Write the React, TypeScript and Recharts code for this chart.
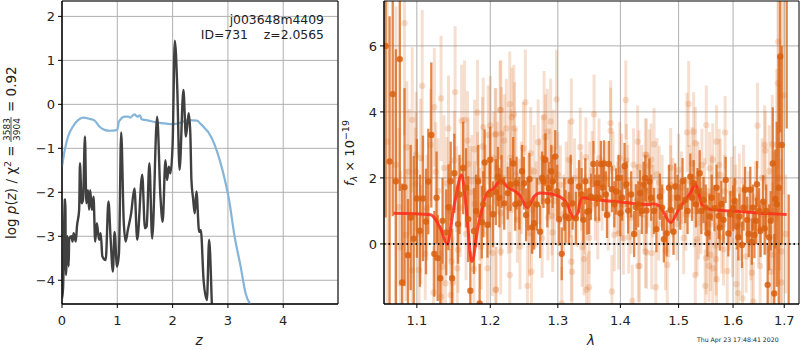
import React from "react";
import { ComposedChart, Line, Scatter, ErrorBar, XAxis, YAxis, ZAxis, CartesianGrid, ReferenceLine, ReferenceArea } from "recharts";

const FONT = "'DejaVu Sans', sans-serif";
const FS = 13;

// left panel
const zTicks = [0, 1, 2, 3, 4];
const logpTicks = [-4, -3, -2, -1, 0, 1, 2];
const priorZ = [0, 0.05, 0.11, 0.2, 0.29, 0.38, 0.5, 0.59, 0.68, 0.77, 0.86, 1.0, 1.03, 1.14, 1.2, 1.23, 1.31, 1.36, 1.41, 1.44, 1.53, 1.71, 1.89, 2.0, 2.14, 2.29, 2.44, 2.51, 2.71, 2.9, 3.02, 3.12, 3.23, 3.32, 3.41];
const priorLog = [-1.42, -1.04, -0.73, -0.5, -0.36, -0.3, -0.33, -0.37, -0.51, -0.58, -0.6, -0.58, -0.39, -0.28, -0.28, -0.3, -0.23, -0.28, -0.25, -0.34, -0.36, -0.41, -0.44, -0.45, -0.42, -0.36, -0.37, -0.45, -0.77, -1.49, -2.17, -3.0, -3.69, -4.3, -4.56];
const pzZ = [0, 0.02, 0.05, 0.06, 0.07, 0.1, 0.12, 0.13, 0.17, 0.19, 0.21, 0.25, 0.27, 0.31, 0.325, 0.355, 0.38, 0.415, 0.44, 0.47, 0.49, 0.51, 0.54, 0.57, 0.6, 0.63, 0.67, 0.7, 0.73, 0.79, 0.84, 0.88, 0.92, 0.95, 0.995, 1.03, 1.07, 1.115, 1.15, 1.19, 1.25, 1.31, 1.36, 1.45, 1.5, 1.53, 1.58, 1.63, 1.72, 1.78, 1.82, 1.87, 1.9, 1.93, 1.96, 2.0, 2.04, 2.085, 2.125, 2.195, 2.24, 2.29, 2.32, 2.34, 2.37, 2.4, 2.43, 2.48, 2.51, 2.56, 2.62, 2.66, 2.71, 2.75];
const pzLog = [-4.41, -4.15, -2.17, -2.16, -3.88, -3.0, -3.68, -3.06, -3.0, -3.12, -2.93, -3.12, -2.78, -2.4, -1.34, -2.25, -2.17, -0.73, -2.25, -1.95, -2.4, -1.95, -2.4, -2.1, -3.12, -2.7, -3.08, -2.93, -3.46, -3.54, -2.21, -3.08, -3.8, -2.9, -3.69, -3.39, -0.64, -2.63, -3.12, -2.86, -2.48, -1.91, -3.08, -1.6, -2.82, -2.78, -1.34, -3.05, -0.28, -2.1, -2.67, -1.27, -1.72, -1.42, -1.57, -0.9, 1.45, 0.33, -1.49, 0.33, -0.73, -0.2, -0.66, -1.72, -2.14, -2.48, -1.98, -2.9, -2.86, -4.0, -4.45, -3.08, -4.56, -6];

// right panel
const lamTicks = [1.1, 1.2, 1.3, 1.4, 1.5, 1.6, 1.7];
const fluxTicks = [0, 2, 4, 6];
const modelLam = [1.07, 1.118, 1.125, 1.132, 1.14, 1.15, 1.16, 1.166, 1.174, 1.183, 1.196, 1.204, 1.215, 1.225, 1.242, 1.254, 1.264, 1.273, 1.288, 1.304, 1.314, 1.325, 1.331, 1.337, 1.352, 1.4, 1.449, 1.455, 1.467, 1.486, 1.5, 1.521, 1.53, 1.536, 1.542, 1.555, 1.576, 1.613, 1.652, 1.705];
const modelFlux = [0.93, 0.885, 0.73, 0.43, 0, 1.2, 2.09, 1.14, -0.53, 0.55, 1.56, 1.66, 1.92, 1.72, 1.49, 1.1, 1.44, 1.54, 1.52, 1.42, 1.23, 0.78, 0.93, 1.41, 1.36, 1.27, 1.19, 1.22, 1.14, 0.65, 1.04, 1.54, 1.81, 1.54, 1.19, 1.06, 1.02, 0.98, 0.93, 0.89];

const paleLam = [1.062, 1.073, 1.084, 1.107, 1.151, 1.132, 1.123, 1.094, 1.164, 1.142, 1.16, 1.087, 1.099, 1.182, 1.19, 1.2, 1.178, 1.168, 1.197, 1.207, 1.214, 1.189, 1.09, 1.099, 1.125, 1.15, 1.169, 1.205, 1.182, 1.14, 1.077, 1.098, 1.172, 1.153, 1.178, 1.086, 1.079, 1.105, 1.111, 1.155, 1.187, 1.203, 1.094, 1.103, 1.134, 1.154, 1.177, 1.196, 1.138, 1.148, 1.122, 1.145, 1.132, 1.208, 1.146,
  1.228, 1.251, 1.215, 1.234, 1.231, 1.298, 1.279, 1.289, 1.321, 1.357, 1.409, 1.384, 1.384, 1.223, 1.235, 1.208, 1.216, 1.284, 1.281, 1.22, 1.27, 1.293, 1.335, 1.429, 1.259, 1.442, 1.317, 1.344, 1.41, 1.354, 1.431, 1.304, 1.402, 1.242, 1.23, 1.215, 1.239, 1.291, 1.261, 1.363, 1.257, 1.292, 1.276, 1.349, 1.39, 1.397, 1.405, 1.414, 1.442, 1.243, 1.215, 1.338, 1.321, 1.341, 1.26, 1.228, 1.254, 1.208, 1.345, 1.349, 1.386, 1.42, 1.43, 1.306, 1.322,
  1.518, 1.515, 1.527, 1.55, 1.585, 1.647, 1.688, 1.688, 1.676, 1.661, 1.662, 1.569, 1.53, 1.444, 1.452, 1.457, 1.449, 1.462, 1.486, 1.5, 1.524, 1.542, 1.562, 1.574, 1.556, 1.576, 1.466, 1.486, 1.603, 1.597, 1.612, 1.444, 1.453, 1.509, 1.536, 1.533, 1.567, 1.582, 1.558, 1.55, 1.568, 1.555, 1.562, 1.589, 1.432, 1.48, 1.652, 1.673, 1.694, 1.606, 1.61, 1.618, 1.639, 1.636, 1.53, 1.548, 1.569, 1.46, 1.694, 1.625, 1.677,
  1.105, 1.113, 1.118, 1.128, 1.136, 1.144, 1.158, 1.166, 1.174, 1.185, 1.193, 1.2, 1.21, 1.218, 1.226, 1.229, 1.237, 1.245, 1.248, 1.255, 1.264, 1.267, 1.272, 1.277, 1.285, 1.288, 1.295, 1.3, 1.309, 1.313, 1.319, 1.326, 1.33, 1.337, 1.343, 1.35, 1.359, 1.365, 1.37, 1.376, 1.38, 1.388, 1.395, 1.399, 1.404, 1.412, 1.418, 1.422, 1.427, 1.436, 1.44, 1.447, 1.455, 1.465, 1.471, 1.477, 1.483, 1.49, 1.497, 1.505, 1.513, 1.519, 1.528, 1.535, 1.54, 1.547, 1.553, 1.56, 1.571, 1.579, 1.584, 1.593, 1.599, 1.605, 1.615, 1.62, 1.63, 1.634, 1.643, 1.649, 1.656, 1.664, 1.67, 1.68, 1.685, 1.69, 1.698, 1.703];
const paleFlux = [3.1, 2.4, 6.69, 4.79, 4.6, 4.41, 4.14, 3.76, 3.76, 3.5, 3.73, 2.93, 2.7, 3.98, 3.54, 3.59, 2.87, 3.13, 3.3, 3.32, 4.06, 2.95, 2.19, 2.19, 2.19, 2.53, 2.42, 2.6, 1.99, 1.84, 1.11, 1.82, 1.57, 1.66, 1.21, 0.27, -0.1, 0.29, -0.3, -0.18, -0.08, -0.28, -0.8, -0.79, -0.69, -0.74, -0.76, -0.74, -1.19, -1.17, -1.47, -1.55, -1.6, -1.39, -0.54,
  4.23, 4.29, 4.06, 3.93, 3.84, 4.38, 3.84, 3.71, 3.71, 3.93, 4.36, 3.66, 3.43, 3.5, 3.5, 3.32, 3.35, 3.4, 3.23, 3.13, 3.08, 2.87, 2.93, 3.1, 2.75, 2.7, 2.55, 2.63, 2.53, 2.22, 2.34, 1.79, 2.24, 1.28, 1.03, 0.93, 0.73, 0.85, 1.03, 0.73, 0.32, 0.35, 0.17, 0.19, 0.27, 0.32, 0.17, 0.2, -0.23, -0.08, -0.23, -0.1, -0.54, -0.46, -0.84, -0.94, -1.27, -1.39, -1.39, -1.31, -1.44, -1.73, -0.67, -1.8, -0.84,
  4.24, 3.38, 3.4, 3.6, 3.38, 3.58, 6.13, 4.87, 3.02, 3.0, 2.83, 3.1, 3.05, 2.7, 2.55, 3.02, 2.37, 2.11, 2.31, 2.24, 2.44, 2.39, 2.55, 2.39, 2.29, 2.09, 1.87, 1.79, 1.87, 1.54, 1.64, -0.26, -0.28, 0.18, 0.63, 0.14, -0.05, -0.16, -0.33, -0.43, -0.46, -0.66, -0.74, -0.82, -0.67, -0.64, -0.67, -0.84, -0.23, -1.22, -1.49, -1.65, -1.75, -0.87, -0.94, -1.27, -1.07, -1.31, -1.17, -0.38, -0.33,
  2.6, 1.1, 3.0, 1.6, 2.3, 1.0, 1.1, 0.3, 1.9, 0.9, 1.6, 1.1, 2.3, 2.0, 1.1, 2.6, 2.1, 1.7, 2.9, 1.3, 2.2, 1.2, 1.9, 2.6, 0.8, 2.2, 1.3, 2.1, 0.9, 1.9, 1.4, 2.0, 1.1, 1.6, 0.9, 1.9, 1.2, 2.6, 1.5, 2.0, 0.9, 2.3, 1.4, 2.6, 1.2, 1.9, 0.8, 2.4, 1.3, 1.9, 0.9, 1.6, 1.3, 0.6, 1.6, -0.2, 0.8, 1.4, 0.6, 1.7, 0.9, 1.9, 1.0, 2.0, 0.8, 1.5, 0.6, 1.6, 1.1, 0.2, 1.6, 0.9, 0.1, 1.3, 0.6, 1.9, 1.1, 0.0, 1.4, 0.5, 2.0, 0.9, 2.2, 1.0, 3.0, 2.0, 4.5, 0.3];
const paleErr = [6, 4.8, 3.4, 2.3, 2, 1.9, 1.8, 2.2, 1.8, 1.6, 1.7, 2, 1.9, 1.6, 1.5, 1.5, 1.5, 1.5, 1.5, 1.4, 1.5, 1.5, 1.9, 1.8, 1.5, 1.5, 1.4, 1.4, 1.4, 1.4, 2.4, 1.7, 1.4, 1.3, 1.3, 2, 2.3, 1.5, 1.4, 1.3, 1.3, 1.3, 1.7, 1.6, 1.3, 1.3, 1.3, 1.3, 1.4, 1.4, 1.4, 1.4, 1.4, 1.3, 1.3,
  1.6, 1.6, 1.5, 1.5, 1.5, 1.5, 1.4, 1.3, 1.3, 1.2, 1.2, 1.3, 1.3, 1.5, 1.4, 1.4, 1.4, 1.3, 1.3, 1.4, 1.3, 1.2, 1.2, 1.1, 1.4, 1.1, 1.2, 1.2, 1.1, 1.2, 1.1, 1.2, 1.1, 1.3, 1.3, 1.3, 1.3, 1.2, 1.3, 1.2, 1.3, 1.2, 1.2, 1.1, 1.1, 1.1, 1.1, 1.1, 1.1, 1.3, 1.3, 1.2, 1.2, 1.1, 1.2, 1.3, 1.2, 1.3, 1.1, 1.1, 1.1, 1.1, 1.1, 1.1, 1.1,
  1.3, 1.2, 1.2, 1.2, 1.1, 1.3, 2.8, 2.6, 1.5, 1.2, 1.2, 1.1, 1.1, 1.1, 1.1, 1.1, 1.1, 1.1, 1.2, 1.1, 1.1, 1.1, 1.1, 1.1, 1.1, 1.1, 1.1, 1.2, 1.1, 1.1, 1.1, 1.1, 1.1, 1.1, 1.1, 1.1, 1.1, 1.1, 1.1, 1.1, 1.1, 1.1, 1.1, 1.1, 1.1, 1.2, 1.2, 1.4, 2.8, 1.1, 1.1, 1.1, 1.2, 1.1, 1.1, 1.1, 1.1, 1.1, 2.8, 1.1, 2.2,
  1.8, 1.6, 1.7, 1.6, 1.6, 1.5, 1.5, 1.4, 1.4, 1.4, 1.4, 1.4, 1.4, 1.4, 1.4, 1.5, 1.4, 1.4, 1.4, 1.4, 1.4, 1.3, 1.3, 1.3, 1.3, 1.3, 1.3, 1.3, 1.2, 1.2, 1.2, 1.2, 1.2, 1.2, 1.2, 1.2, 1.1, 1.2, 1.1, 1.1, 1.1, 1.1, 1.1, 1.1, 1.1, 1.1, 1.1, 1.1, 1.1, 1.1, 1.1, 1.1, 1.1, 1.1, 1.1, 1.2, 1.2, 1.2, 1.1, 1.1, 1.1, 1.1, 1.1, 1.1, 1.1, 1.1, 1.1, 1.1, 1.1, 1.1, 1.1, 1.1, 1.1, 1.1, 1.1, 1.1, 1.1, 1.1, 1.1, 1.1, 1.2, 1.2, 1.4, 1.8, 2.3, 2.8, 3, 1.8];

const darkLam = [1.06, 1.065, 1.069, 1.078, 1.081, 1.084, 1.0885, 1.096, 1.1, 1.108, 1.112, 1.115, 1.119, 1.123, 1.1275, 1.131, 1.134, 1.139, 1.142, 1.147, 1.15, 1.157, 1.162, 1.169, 1.172, 1.177, 1.18, 1.185, 1.188, 1.192, 1.196, 1.2, 1.204, 1.208, 1.211,
  1.216, 1.22, 1.225, 1.233, 1.238, 1.242, 1.249, 1.252, 1.257, 1.261, 1.264, 1.273, 1.278, 1.281, 1.286, 1.292, 1.296, 1.302, 1.306, 1.312, 1.317, 1.323, 1.328, 1.333, 1.34, 1.346, 1.352, 1.356, 1.362, 1.368, 1.373, 1.378, 1.381, 1.386, 1.393, 1.4, 1.407, 1.413, 1.423, 1.426, 1.433, 1.439, 1.444, 1.449,
  1.461, 1.467, 1.474, 1.479, 1.486, 1.491, 1.494, 1.503, 1.512, 1.521, 1.527, 1.531, 1.538, 1.545, 1.552, 1.556, 1.565, 1.573, 1.578, 1.582, 1.586, 1.591, 1.6, 1.607, 1.612, 1.617, 1.623, 1.627, 1.633, 1.636, 1.641, 1.646, 1.653, 1.658, 1.661, 1.667, 1.673, 1.677, 1.682, 1.689, 1.692, 1.705, 1.709,
  1.073, 1.092, 1.104, 1.126, 1.145, 1.155, 1.166, 1.183, 1.19, 1.199, 1.213, 1.229, 1.236, 1.246, 1.255, 1.268, 1.276, 1.284, 1.29, 1.299, 1.31, 1.32, 1.337, 1.343, 1.349, 1.359, 1.365, 1.371, 1.376, 1.39, 1.397, 1.403, 1.41, 1.418, 1.43, 1.436, 1.442, 1.452, 1.457, 1.471, 1.483, 1.498, 1.507, 1.516, 1.524, 1.534, 1.541, 1.549, 1.56, 1.569, 1.575, 1.595, 1.603, 1.61, 1.62, 1.63, 1.638, 1.644, 1.65, 1.664, 1.67, 1.68, 1.685, 1.695];
const darkFlux = [6, 2.5, 4.54, 5.6, -1.17, 1.72, -0.34, 0.16, 1.38, 1.38, 0.68, 1.89, 3.3, -0.3, -0.43, -1.04, 0.7, 0.35, 1.11, -1.04, 2.14, 1.5, 2.3, 0.75, -1.42, 0.39, 1, -1.8, 0.66, 2.47, 0.58, 2.55, 0.9, 1.57, 2.04,
  1.89, 1.23, 1.54, 2.44, 1.84, 1.23, 1.84, 0.88, 1.96, 0.5, 0.63, 0.37, 1.89, 2.55, 1.69, 1.89, 2.65, 0.75, -0.3, 0.83, 0.78, 1.23, 0.78, 1.74, 0.73, 0.98, 1.43, 2.42, 1.84, 2.42, 2.44, 0.88, 2.42, 1.66, 1.59, 0.93, 2.36, 1.01, 0.3, 1.11, 1.54, 1.79, 1.01, 1.89,
  0.45, 1.43, 0.14, 0.32, 1.03, 0.37, 1.74, 1.13, 1.33, 2.04, 1.84, 1.2, 2.14, 1.33, 0.32, 0.83, 1.08, 0.85, 1.21, 0.73, 1.94, 0.32, 1.08, 0.53, 0.83, -0.03, 1.64, 0.73, 1.64, 0.07, 0.27, 1.81, 0.4, 1.28, 0.47, -1.24, 0.7, 2.44, 1.36, 1.7, 5.68, 8, -3,
  1.9, 0.8, 0.4, 1.4, 1.9, 0.6, 1.7, 1.9, 1.2, 1.5, 1.4, 1.8, 1.2, 2.2, 1.2, 1.2, 2.0, 1.3, 2.2, 1.6, 1.2, 1.9, 1.5, 1.9, 1.0, 1.4, 1.4, 1.7, 1.5, 1.2, 2.0, 1.4, 1.8, 1.5, 1.2, 1.0, 2.0, 1.4, 1.0, 1.1, 1.7, 1.4, 1.9, 1.0, 1.4, 1.6, 1.0, 1.1, 1.4, 1.7, 0.5, 0.9, 1.3, 0.2, 1.1, 0.3, 1.1, 0.7, 1.0, 1.0, 0.2, -1.5, 1.2, 3];
const darkErr = [5.2, 4.4, 3.7, 4, 3, 3, 1.7, 2.5, 1.8, 1.9, 1.6, 1.6, 2.2, 1.3, 1.3, 1.6, 1.3, 1.3, 1.3, 1.5, 1.2, 1.2, 1.4, 1.3, 1.2, 1.3, 1.1, 1.2, 1.1, 1, 1, 1, 1, 1, 0.9,
  0.8, 0.8, 0.8, 0.8, 0.8, 0.8, 0.8, 0.8, 0.8, 0.8, 0.8, 0.8, 0.8, 0.8, 0.8, 0.8, 0.8, 0.8, 0.8, 0.8, 0.8, 0.8, 0.8, 0.8, 0.7, 0.7, 0.7, 0.7, 0.7, 0.7, 0.7, 0.7, 0.7, 0.7, 0.7, 0.7, 0.7, 0.7, 0.7, 0.7, 0.7, 0.7, 0.7, 0.7,
  0.7, 0.7, 0.7, 0.7, 0.7, 0.7, 0.7, 0.7, 0.7, 0.7, 0.7, 0.7, 0.7, 0.7, 0.7, 0.7, 0.7, 0.7, 0.7, 0.7, 0.7, 0.7, 0.7, 0.7, 0.7, 0.7, 0.7, 0.7, 0.7, 0.7, 0.7, 0.7, 0.8, 0.8, 0.8, 1.2, 0.9, 1.7, 1.5, 4, 2.3, 4.5, 4.5,
  4, 2.2, 1.7, 1.4, 1.2, 1.2, 1.2, 1.1, 1, 1, 0.9, 0.8, 0.8, 0.8, 0.8, 0.8, 0.8, 0.8, 0.8, 0.8, 0.8, 0.8, 0.8, 0.7, 0.7, 0.7, 0.7, 0.7, 0.7, 0.7, 0.7, 0.7, 0.7, 0.7, 0.7, 0.7, 0.7, 0.7, 0.7, 0.7, 0.7, 0.7, 0.7, 0.7, 0.7, 0.7, 0.7, 0.7, 0.7, 0.7, 0.7, 0.7, 0.7, 0.7, 0.7, 0.7, 0.7, 0.7, 0.7, 0.8, 1, 1.8, 2.5, 3];

const zip2 = (x: number[], y: number[]) => x.map((v, i) => ({ x: v, y: y[i] }));
const zip3 = (x: number[], y: number[], e: number[]) => x.map((v, i) => ({ x: v, y: y[i], e: e[i] }));

const priorData = zip2(priorZ, priorLog);
const pzData = zip2(pzZ, pzLog);
const modelData = zip2(modelLam, modelFlux);
const paleData = zip3(paleLam, paleFlux, paleErr);
const darkData = zip3(darkLam, darkFlux, darkErr);

const tickStyle = { fontFamily: FONT, fontSize: FS, fill: "#222" };
const minus = (v: number) => String(v).replace("-", "\u2212");
const GRID = "#b0b0b0";
const ORANGE = "#d95f0e";

export default function App() {
  const zDom: [number, number] = [0, 4.99];
  const pDom: [number, number] = [-4.54, 2.35];
  const lDom: [number, number] = [1.058, 1.73];
  const fDom: [number, number] = [-1.82, 7.36];
  return (
    <div style={{ position: "absolute", left: 0, top: 0, width: 800, height: 350, background: "#fff", overflow: "hidden" }}>
      <div style={{ position: "absolute", left: 0, top: 0 }}>
        <ComposedChart width={350} height={350} margin={{ top: 1, right: 12, bottom: 0, left: 0 }}>
          <CartesianGrid stroke={GRID} strokeWidth={1} />
          <XAxis dataKey="x" type="number" domain={zDom} ticks={zTicks} allowDataOverflow interval={0} height={46} tickSize={4} tickMargin={8} tick={tickStyle} stroke="#000" />
          <YAxis dataKey="y" type="number" domain={pDom} ticks={logpTicks} allowDataOverflow interval={0} width={62} tickSize={4} tickMargin={3} tick={tickStyle} tickFormatter={minus} stroke="#000" />
          <Line data={priorData} dataKey="y" type="monotone" stroke="#85b5d9" strokeWidth={2.2} dot={false} isAnimationActive={false} />
          <Line data={pzData} dataKey="y" type="monotone" stroke="#404040" strokeWidth={2.4} dot={false} isAnimationActive={false} />
          <ReferenceArea x1={zDom[0]} x2={zDom[1]} y1={pDom[0]} y2={pDom[1]} fill="none" stroke="#000" strokeWidth={1} ifOverflow="visible" />
        </ComposedChart>
      </div>
      <div style={{ position: "absolute", left: 350, top: 0, clipPath: "inset(1px 1px 46px 34px)" }}>
        <ComposedChart width={450} height={350} margin={{ top: 1, right: 1, bottom: 46, left: 34 }}>
          <CartesianGrid stroke={GRID} strokeWidth={1} horizontalValues={fluxTicks} verticalValues={lamTicks} />
          <XAxis hide dataKey="x" type="number" scale="log" domain={lDom} ticks={lamTicks} allowDataOverflow interval={0} />
          <YAxis hide dataKey="y" type="number" domain={fDom} ticks={fluxTicks} allowDataOverflow interval={0} />
          <ZAxis range={[32, 32]} />
          <Scatter data={paleData} fill={ORANGE} fillOpacity={0.2} isAnimationActive={false}>
            <ErrorBar dataKey="e" direction="y" width={0} stroke={ORANGE} strokeOpacity={0.2} strokeWidth={3} isAnimationActive={false} />
          </Scatter>
          <Scatter data={darkData} fill={ORANGE} fillOpacity={0.85} isAnimationActive={false}>
            <ErrorBar dataKey="e" direction="y" width={0} stroke={ORANGE} strokeOpacity={0.75} strokeWidth={2.3} isAnimationActive={false} />
          </Scatter>
          <Line data={modelData} dataKey="y" type="monotone" stroke="#ff2a1a" strokeOpacity={0.85} strokeWidth={3} dot={false} isAnimationActive={false} />
          <ReferenceLine y={0} stroke="#111" strokeWidth={2} strokeDasharray="1.5 3" />
        </ComposedChart>
      </div>
      <div style={{ position: "absolute", left: 350, top: 0 }}>
        <ComposedChart width={450} height={350} margin={{ top: 1, right: 1, bottom: 0, left: 0 }}>
          <XAxis dataKey="x" type="number" scale="log" domain={lDom} ticks={lamTicks} allowDataOverflow interval={0} height={46} tickSize={4} tickMargin={8} tick={tickStyle} stroke="#000" />
          <YAxis dataKey="y" type="number" domain={fDom} ticks={fluxTicks} allowDataOverflow interval={0} width={34} tickSize={4} tickMargin={3} tick={tickStyle} stroke="#000" />
          <ReferenceArea x1={lDom[0]} x2={lDom[1]} y1={fDom[0]} y2={fDom[1]} fill="none" stroke="#000" strokeWidth={1} ifOverflow="visible" />
        </ComposedChart>
      </div>
      <svg width={800} height={350} style={{ position: "absolute", left: 0, top: 0, pointerEvents: "none" }} fontFamily={FONT} fill="#222">
        <text x={324} y={24} fontSize={12.4} textAnchor="end">j003648m4409</text>
        <text x={324} y={39} fontSize={12.4} textAnchor="end" xmlSpace="preserve">ID=731    z=2.0565</text>
        <text x={199} y={345} fontSize={13.5} fontStyle="italic" textAnchor="middle">z</text>
        <text x={591} y={345} fontSize={13.5} fontStyle="italic" textAnchor="middle">λ</text>
        <text x={697} y={342} fontSize={6.2}>Thu Apr 23 17:48:41 2020</text>
        <g transform="translate(16,239) rotate(-90)" fontSize={13.5}>
          <text x={0} y={0}>log <tspan fontStyle="italic">p</tspan>(<tspan fontStyle="italic">z</tspan>) / χ<tspan dy={-5} fontSize={9.5}>2</tspan><tspan dy={5}> =</tspan></text>
          <text x={109.5} y={-6} fontSize={9} textAnchor="middle">3583</text>
          <line x1={97} x2={122} y1={-5} y2={-5} stroke="#222" strokeWidth={0.8} />
          <text x={109.5} y={4} fontSize={9} textAnchor="middle">3904</text>
          <text x={127} y={0}>= 0.92</text>
        </g>
        <g transform="translate(354,186) rotate(-90)" fontSize={13}>
          <text x={0} y={0}><tspan fontStyle="italic">f</tspan><tspan dy={3} fontSize={9.5} fontStyle="italic">λ</tspan><tspan dy={-3}> × 10</tspan><tspan dy={-5} fontSize={9.5}>−19</tspan></text>
        </g>
      </svg>
    </div>
  );
}
